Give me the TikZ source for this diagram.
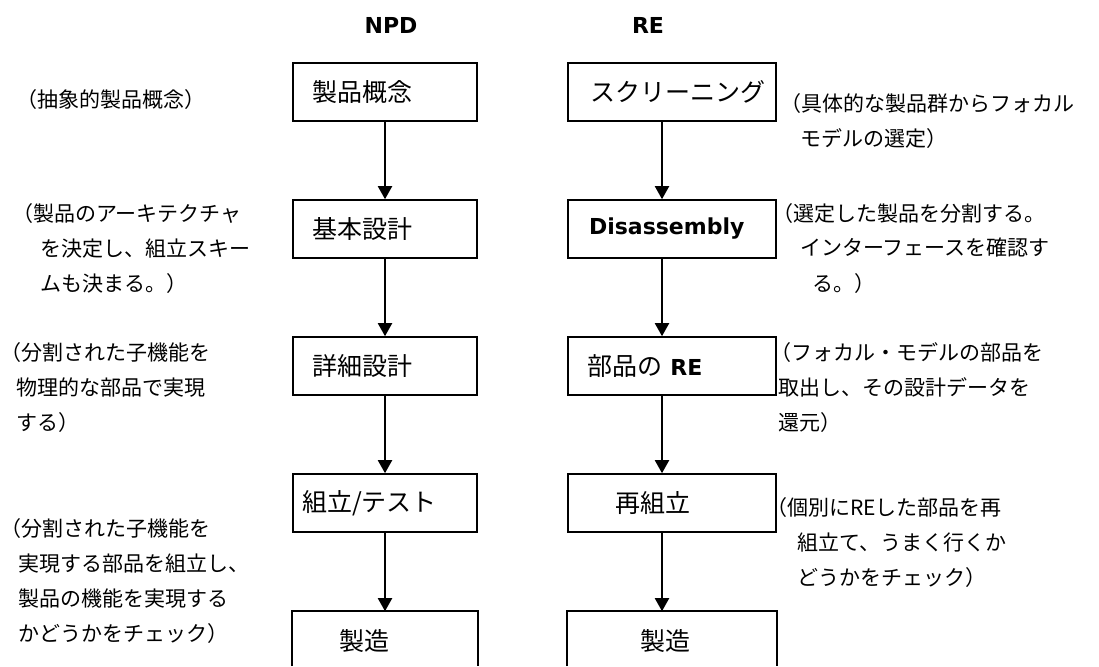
\documentclass[tikz,border=0pt]{standalone}
\usepackage{fontspec}
\newfontfamily\jp{Noto Sans CJK JP}
\newfontfamily\lat{DejaVu Sans}
\usetikzlibrary{arrows.meta}
\tikzset{
  flowbox/.style={draw, line width=1.6pt, inner xsep=0pt, inner ysep=0pt,
    minimum height=58pt, text width=#1, align=left,
    font=\jp\fontsize{25}{30}\selectfont},
  hdr/.style={font=\lat\bfseries\fontsize{22}{26}\selectfont, inner sep=0pt},
  ann/.style={font=\jp\fontsize{21}{21}\selectfont, inner sep=0pt, anchor=base west},
  flow/.style={line width=2pt, -{Triangle[width=14pt,length=13pt]}},
  side/.style={line width=1.6pt}
}
\begin{document}
\begin{tikzpicture}[x=1pt,y=-1pt]
\useasboundingbox[fill=white] (0,0) rectangle (1099,666);
\coordinate (bot) at (0,666);
% headers
\node[hdr] (hN) at (391,25) {NPD};
\node[hdr] (hR) at (648,25) {RE};
% NPD column
\node[flowbox=184pt] (n1) at (385,92) {\hspace*{19pt}製品概念};
\node[flowbox=184pt] (n2) at (385,229) {\hspace*{19pt}基本設計};
\node[flowbox=184pt] (n3) at (385,366) {\hspace*{19pt}詳細設計};
\node[flowbox=184pt] (n4) at (385,503) {\hspace*{9pt}組立/テスト};
\node[flowbox=184pt, draw=none] (n5) at (385,641) {\hspace*{46pt}製造};
\draw[side] (n5.north west |- bot) -- (n5.north west) -- (n5.north east) -- (n5.north east |- bot);
% RE column
\node[flowbox=208pt] (r1) at (672,92) {\hspace*{22pt}スクリーニング};
\node[flowbox=208pt] (r2) at (672,229) {\hspace*{21pt}{\lat\bfseries\fontsize{22}{26}\selectfont Disassembly}};
\node[flowbox=208pt] (r3) at (672,366) {\hspace*{19pt}部品の {\lat\bfseries\fontsize{22}{26}\selectfont RE}};
\node[flowbox=208pt] (r4) at (672,503) {\hspace*{47pt}再組立};
\node[flowbox=208pt, draw=none] (r5) at (672,641) {\hspace*{72pt}製造};
\draw[side] (r5.north west |- bot) -- (r5.north west) -- (r5.north east) -- (r5.north east |- bot);
% arrows
\draw[flow] (n1) -- (n2);
\draw[flow] (n2) -- (n3);
\draw[flow] (n3) -- (n4);
\draw[flow] (n4) -- (n5.north);
\draw[flow] ([xshift=-10pt]r1.south) -- ([xshift=-10pt]r2.north);
\draw[flow] ([xshift=-10pt]r2.south) -- ([xshift=-10pt]r3.north);
\draw[flow] ([xshift=-10pt]r3.south) -- ([xshift=-10pt]r4.north);
\draw[flow] ([xshift=-10pt]r4.south) -- ([xshift=-10pt]r5.north);
% left annotations
\node[ann] (a11) at (16,108) {（抽象的製品概念）};
\node[ann] (a21) at (12,221) {（製品のアーキテクチャ};
\node[ann] (a22) at (40,256) {を決定し、組立スキー};
\node[ann] (a23) at (40,291) {ムも決まる。）};
\node[ann] (a31) at (0,360) {（分割された子機能を};
\node[ann] (a32) at (16,395) {物理的な部品で実現};
\node[ann] (a33) at (16,430) {する）};
\node[ann] (a41) at (0,536) {（分割された子機能を};
\node[ann] (a42) at (18,571) {実現する部品を組立し、};
\node[ann] (a43) at (18,606) {製品の機能を実現する};
\node[ann] (a44) at (18,641) {かどうかをチェック）};
% right annotations
\node[ann] (b11) at (780,111) {（具体的な製品群からフォカル};
\node[ann] (b12) at (800,146) {モデルの選定）};
\node[ann] (b21) at (772,221) {（選定した製品を分割する。};
\node[ann] (b22) at (800,255) {インターフェースを確認す};
\node[ann] (b23) at (812,291) {る。）};
\node[ann] (b31) at (770,360) {（フォカル・モデルの部品を};
\node[ann] (b32) at (778,395) {取出し、その設計データを};
\node[ann] (b33) at (778,430) {還元）};
\node[ann] (b41) at (766,515) {（個別にREした部品を再};
\node[ann] (b42) at (797,550) {組立て、うまく行くか};
\node[ann] (b43) at (797,585) {どうかをチェック）};
\end{tikzpicture}
\end{document}
